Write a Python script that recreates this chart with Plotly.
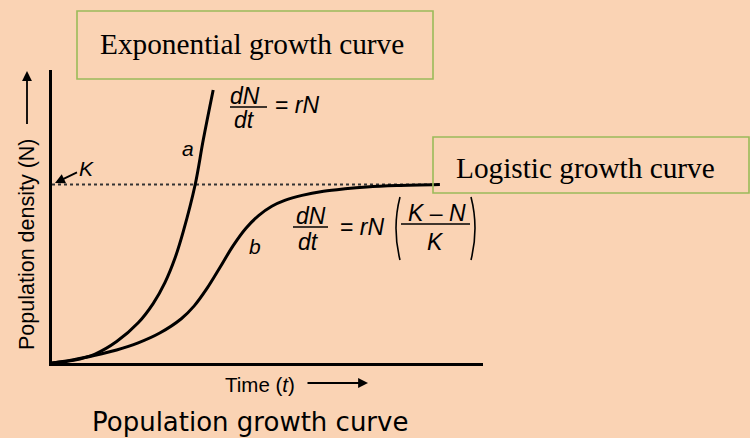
import plotly.graph_objects as go

# ---- data ----
time_a = [0, 0.5, 1.0, 1.5, 2.0, 2.35, 2.62, 2.85, 3.05, 3.32, 3.51, 3.74]
N_a = [0, 1.5, 5.0, 12.0, 22.5, 33.4, 45.0, 58.5, 74.0, 99.7, 125.0, 152.9]

time_b = [0, 0.5, 1.0, 1.5, 2.0, 2.5, 3.0, 3.3, 3.6, 3.9, 4.2, 4.5,
          4.8, 5.1, 5.4, 5.8, 6.3, 6.8, 7.3, 8.0, 9.0]
N_b = [0, 1.8, 4.3, 7.3, 11.3, 16.8, 24.8, 32.0, 41.9, 53.6, 65.6, 75.5,
       82.7, 87.8, 91.1, 93.9, 96.2, 97.6, 98.6, 99.4, 100]

K = 100
time_K = [0, 9.0]

# ---- layout geometry ----
W, H = 750, 438
L, R, T, B = 52, 267, 70, 75
BG = "#FAD3B4"
GREEN = "#9BBB59"
SANS = "Liberation Sans, Arial, sans-serif"
SERIF = "Liberation Serif, Times New Roman, serif"


def px(xpix):
    return (xpix - L) / (W - L - R)


def py(ypix):
    return (H - B - ypix) / (H - T - B)


fig = go.Figure()
fig.add_trace(go.Scatter(x=time_K, y=[K, K], mode="lines",
                         line=dict(color="#333333", width=2, dash="dot"),
                         hoverinfo="skip"))
fig.add_trace(go.Scatter(x=time_a, y=N_a, mode="lines",
                         line=dict(color="black", width=3, shape="spline", smoothing=1)))
fig.add_trace(go.Scatter(x=time_b, y=N_b, mode="lines",
                         line=dict(color="black", width=3, shape="spline", smoothing=1)))

ann = []


def text(x, y, s, size=16, family=SANS, xanchor="center", angle=0, color="black"):
    ann.append(dict(x=px(x), y=py(y), xref="paper", yref="paper", text=s,
                    showarrow=False, xanchor=xanchor, yanchor="middle",
                    textangle=angle, font=dict(size=size, family=family, color=color)))


def arrow(x0, y0, x1, y1, s=" ", size=15):
    ann.append(dict(x=px(x1), y=py(y1), xref="paper", yref="paper", text=s,
                    showarrow=True, ax=x0 - x1, ay=y0 - y1, axref="pixel", ayref="pixel",
                    arrowhead=2, arrowsize=1.1, arrowwidth=1.8, arrowcolor="black",
                    font=dict(size=size, family=SANS, color="black")))


shapes = []


def hline(x0, x1, y, w=1.6):
    shapes.append(dict(type="line", xref="paper", yref="paper",
                       x0=px(x0), x1=px(x1), y0=py(y), y1=py(y),
                       line=dict(color="black", width=w)))


def path(pts, w=1.6):
    (xa, ya), (xb, yb), (xc, yc) = pts
    shapes.append(dict(type="path", xref="paper", yref="paper",
                       path=f"M {px(xa)},{py(ya)} Q {px(xb)},{py(yb)} {px(xc)},{py(yc)}",
                       line=dict(color="black", width=w)))


def box(x0, y0, x1, y1):
    shapes.append(dict(type="rect", xref="paper", yref="paper",
                       x0=px(x0), x1=px(x1), y0=py(y1), y1=py(y0),
                       line=dict(color=GREEN, width=1.6), fillcolor="rgba(0,0,0,0)"))


# label boxes
box(77, 11, 433, 79)
text(98, 44, "Exponential growth curve", size=29.3, family=SERIF, xanchor="left")
box(433, 137, 749, 193)
text(454, 168, "Logistic growth curve", size=29.3, family=SERIF, xanchor="left")

# curve labels
text(188, 148, "<i>a</i>", size=21)
text(255, 246, "<i>b</i>", size=21)

# dN/dt = rN
text(245, 96, "<i>dN</i>", size=23)
hline(230, 267, 107)
text(244, 120, "<i>dt</i>", size=23)
text(297, 105, "= <i>rN</i>", size=23)

# dN/dt = rN ((K-N)/K)
text(311, 216, "<i>dN</i>", size=23)
hline(293, 328, 227)
text(308, 242, "<i>dt</i>", size=23)
text(362, 227, "= <i>rN</i>", size=23)
path([(400, 197), (392, 228), (400, 260)])
path([(471, 197), (479, 228), (471, 260)])
text(437, 213, "<i>K</i> \u2013 <i>N</i>", size=23)
hline(401, 470, 224)
text(435, 242, "<i>K</i>", size=23)

# K marker
arrow(86, 168, 55, 183, s="<i>K</i>", size=21)

# axis titles
text(27, 244, "Population density (N)", size=21.5, angle=-90)
arrow(27, 134, 27, 71)
text(260, 384, "Time (<i>t</i>)", size=20.5)
arrow(304, 383, 368, 383)

# figure caption
text(250, 422, "Population growth curve", size=26, family="DejaVu Sans, sans-serif")

fig.update_layout(
    width=W, height=H,
    margin=dict(l=L, r=R, t=T, b=B, pad=0),
    paper_bgcolor=BG, plot_bgcolor=BG,
    showlegend=False,
    annotations=ann, shapes=shapes,
    xaxis=dict(range=[0, 10], showgrid=False, zeroline=False, showticklabels=False,
               ticks="", showline=True, linecolor="black", linewidth=3, fixedrange=True),
    yaxis=dict(range=[0, 164.1], showgrid=False, zeroline=False, showticklabels=False,
               ticks="", showline=True, linecolor="black", linewidth=3, fixedrange=True),
)

fig.write_html("out.html", config={"displayModeBar": False},
               post_script="document.body.style.margin='0';document.body.style.background='" + BG + "';")
